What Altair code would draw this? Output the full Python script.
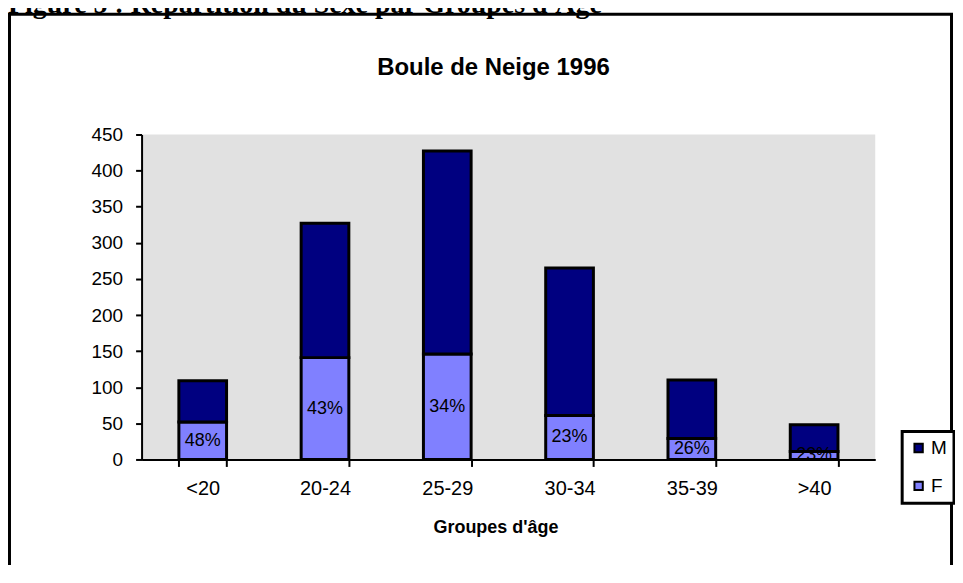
import altair as alt
import pandas as pd

ages = ["<20", "20-24", "25-29", "30-34", "35-39", ">40"]
femmes = [52, 141, 146, 61, 29, 11]
hommes = [57, 186, 281, 204, 81, 37]
pct_labels = ["48%", "43%", "34%", "23%", "26%", "23%"]
sexes = ["M", "F"]
colors = ["#000080", "#8080FF"]
y_ticks = [0, 50, 100, 150, 200, 250, 300, 350, 400, 450]

rows = []
for a, f, m in zip(ages, femmes, hommes):
    rows.append({"age": a, "sexe": "F", "n": f, "ord": 0})
    rows.append({"age": a, "sexe": "M", "n": m, "ord": 1})
df = pd.DataFrame(rows)
lab = pd.DataFrame({"age": ages, "mid": [f / 2 for f in femmes], "pct": pct_labels})
one = pd.DataFrame({"k": [0]})

FONT = "Liberation Sans"

x_scale = alt.Scale(paddingInner=0.61, paddingOuter=0.305)
y_scale = alt.Scale(domain=[0, 450], nice=False)

x_axis = alt.Axis(
    title="Groupes d'âge",
    labelAngle=0,
    labelFont=FONT,
    labelFontSize=20,
    labelColor="black",
    labelPadding=12,
    tickBand="extent",
    tickColor="black",
    tickWidth=2,
    tickSize=7,
    domainColor="black",
    domainWidth=2,
    titleFont=FONT,
    titleFontSize=18,
    titleFontWeight="bold",
    titleColor="black",
    titlePadding=20,
    titleX=355,
)

y_axis = alt.Axis(
    title=None,
    values=y_ticks,
    labelOverlap=False,
    grid=False,
    labelFont=FONT,
    labelFontSize=19,
    labelColor="black",
    labelPadding=13,
    tickColor="black",
    tickWidth=2,
    tickSize=6,
    domainColor="black",
    domainWidth=2,
)

bars = alt.Chart(df).mark_bar(stroke="black", strokeWidth=3).encode(
    x=alt.X("age:N", sort=ages, scale=x_scale, axis=x_axis),
    y=alt.Y("n:Q", stack="zero", scale=y_scale, axis=y_axis),
    color=alt.Color(
        "sexe:N",
        scale=alt.Scale(domain=sexes, range=colors),
        legend=alt.Legend(
            title=None,
            orient="none",
            legendX=763,
            legendY=298,
            direction="vertical",
            fillColor="white",
            strokeColor="black",
            padding=7,
            rowPadding=18,
            symbolType="square",
            symbolSize=70,
            symbolStrokeColor="black",
            symbolStrokeWidth=2,
            symbolOpacity=1,
            labelFont=FONT,
            labelFontSize=19,
            labelColor="black",
            labelOffset=3,
        ),
    ),
    order=alt.Order("ord:Q"),
)

labels = alt.Chart(lab).mark_text(font=FONT, fontSize=18, color="black").encode(
    x=alt.X("age:N", sort=ages, scale=x_scale, axis=x_axis),
    y=alt.Y("mid:Q", scale=y_scale, axis=y_axis),
    text="pct:N",
)

frame = alt.Chart(one).mark_rect(filled=False, stroke="black", strokeWidth=3).encode(
    x=alt.value(-132.5), x2=alt.value(812.5), y=alt.value(-120.5), y2=alt.value(620)
)

header = alt.Chart(one).mark_text(
    font="Liberation Serif", fontSize=28, fontWeight="bold", align="left",
    baseline="alphabetic", color="black",
).encode(
    x=alt.value(-134), y=alt.value(-122),
    text=alt.value("Figure 5 : Répartition du Sexe par Groupes d'Age"),
)

title = alt.Chart(one).mark_text(
    font=FONT, fontSize=24, fontWeight="bold", align="center",
    baseline="middle", color="black",
).encode(
    x=alt.value(353), y=alt.value(-67),
    text=alt.value("Boule de Neige 1996"),
)

chart = alt.layer(frame, header, title, bars, labels).properties(
    width=736,
    height=326,
    autosize=alt.AutoSizeParams(type="none"),
    padding={"left": 134, "top": 126, "right": 80, "bottom": 105},
    background="white",
).configure_view(fill="#E1E1E1", strokeWidth=0).configure_legend(strokeWidth=3)

chart.save("out.html", embed_options={"renderer": "svg", "actions": False})
